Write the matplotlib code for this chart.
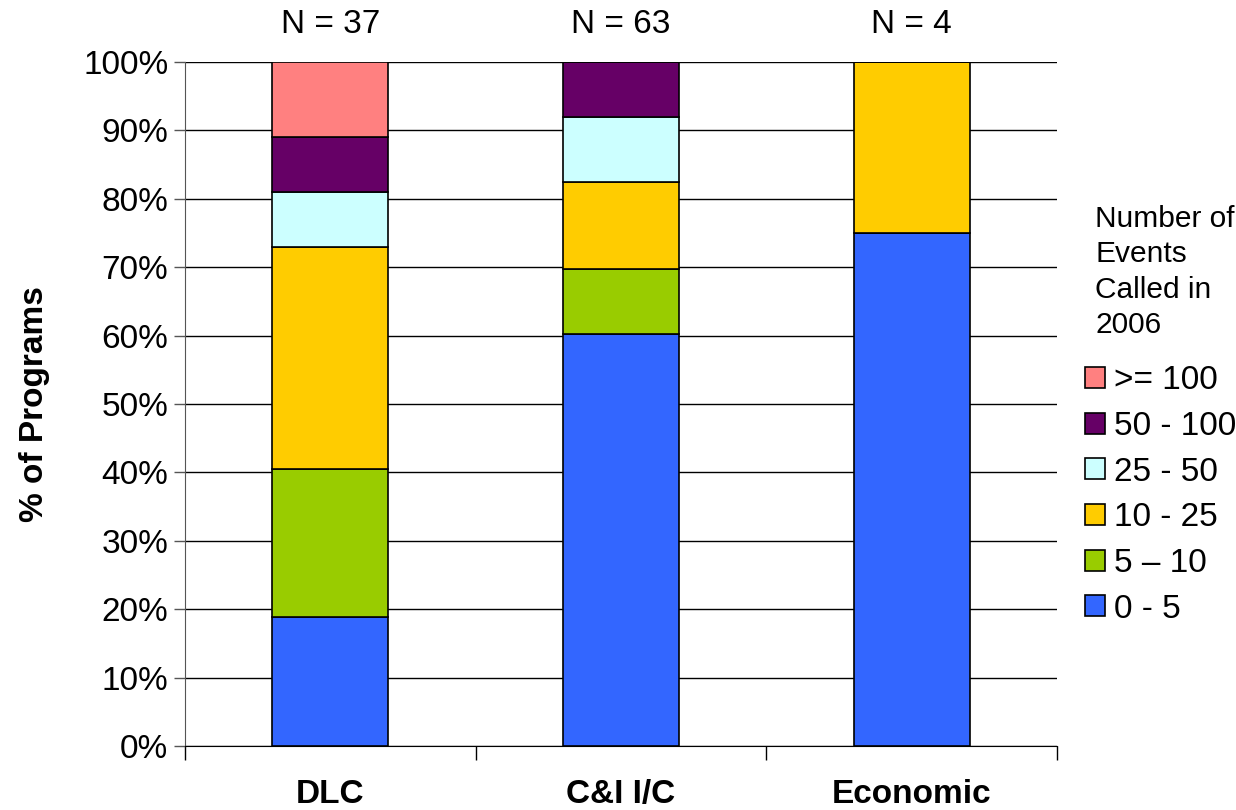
import matplotlib.pyplot as plt
from matplotlib.patches import Patch
from matplotlib.ticker import PercentFormatter

plt.rcParams['font.family'] = ['Liberation Sans', 'DejaVu Sans']

categories = ["DLC", "C&I I/C", "Economic"]
n_programs = [37, 63, 4]
ranges = ["0 - 5", "5 \u2013 10", "10 - 25", "25 - 50", "50 - 100", ">= 100"]
colors = ["#3366FF", "#99CC00", "#FFCC00", "#CCFFFF", "#660066", "#FF8080"]

# share of programs in each range (per category)
share_0_5 = [0.189, 0.603, 0.75]
share_5_10 = [0.216, 0.095, 0.0]
share_10_25 = [0.324, 0.127, 0.25]
share_25_50 = [0.081, 0.095, 0.0]
share_50_100 = [0.081, 0.080, 0.0]
share_100 = [0.109, 0.0, 0.0]
shares = [share_0_5, share_5_10, share_10_25, share_25_50, share_50_100, share_100]

fig = plt.figure(figsize=(12.36, 8.10), dpi=100)
ax = fig.add_axes([0.1497, 0.079, 0.7055, 0.8444])

x = range(len(categories))
bottom = [0.0] * len(categories)
for vals, col, lab in zip(shares, colors, ranges):
    ax.bar(x, vals, width=0.4, bottom=bottom, color=col, edgecolor="black",
           linewidth=1.2, label=lab, zorder=3)
    bottom = [b + v for b, v in zip(bottom, vals)]

ax.set_xlim(-0.5, 2.5)
ax.set_ylim(0, 1)
ax.set_yticks([i / 10 for i in range(11)])
ax.yaxis.set_major_formatter(PercentFormatter(1.0, decimals=0))
ax.yaxis.grid(True, color="black", linewidth=1, zorder=0)
ax.tick_params(axis="y", labelsize=24, length=8, width=1, color="#555555", pad=4)

ax.set_xticks(list(x))
ax.set_xticklabels(categories, fontsize=24, fontweight="bold")
ax.tick_params(axis="x", length=0, pad=24)
ax.set_xticks([-0.5, 0.5, 1.5, 2.5], minor=True)
ax.tick_params(axis="x", which="minor", length=10, width=1, direction="out")

for side in ["top", "right"]:
    ax.spines[side].set_visible(False)
ax.spines["left"].set_color("#555555")
ax.spines["bottom"].set_color("black")

ax.set_ylabel("% of Programs", fontsize=24, fontweight="bold", labelpad=24)

for i, n in enumerate(n_programs):
    ax.text(i, 1.055, f"N = {n}", ha="center", va="center", fontsize=24)

fig.text(0.886, 0.747, "Number of\nEvents\nCalled in\n2006", ha="left", va="top",
         fontsize=21.5, linespacing=1.34)

handles = [Patch(facecolor=c, edgecolor="black", linewidth=1.2) for c in colors][::-1]
labels = ranges[::-1]
leg = fig.legend(handles, labels, loc="upper left", bbox_to_anchor=(0.878, 0.549),
                 frameon=False, fontsize=24, handlelength=0.6, handleheight=0.6,
                 handletextpad=0.25, labelspacing=0.44, borderpad=0, borderaxespad=0)

fig.savefig("out.png", dpi=100)
